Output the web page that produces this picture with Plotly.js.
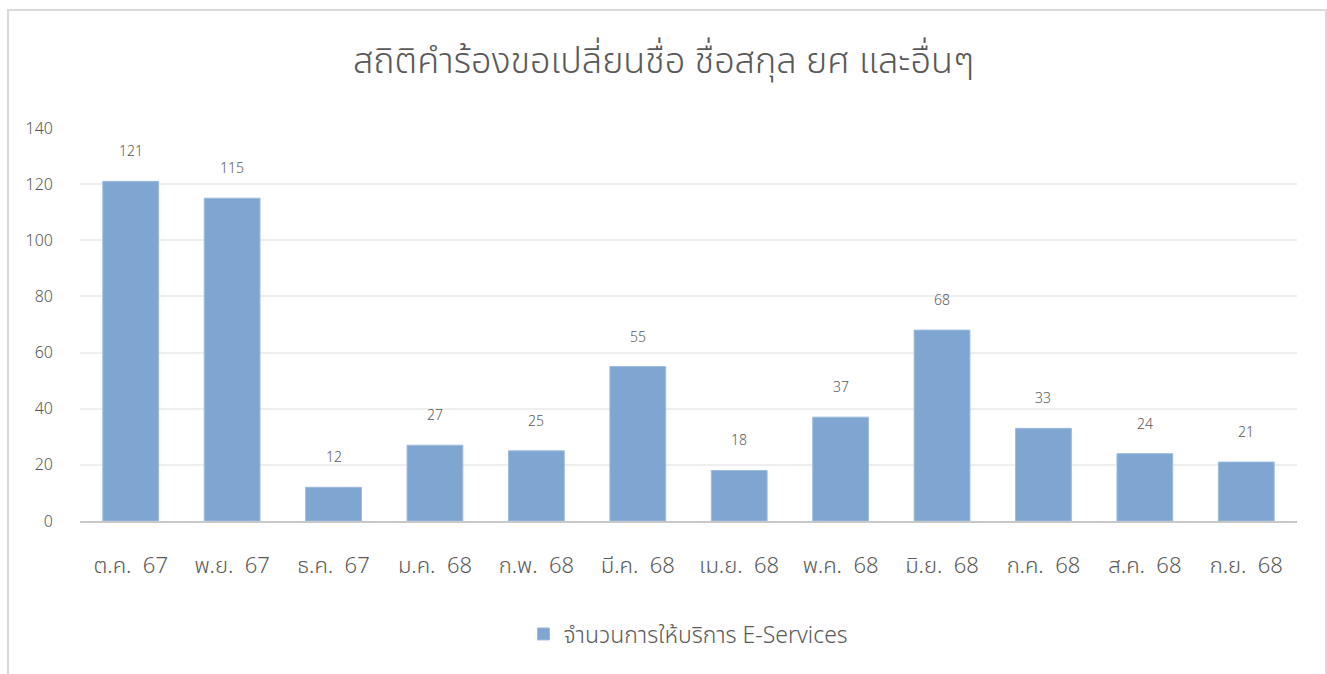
<!DOCTYPE html>
<html>
<head>
<meta charset="utf-8">
<script src="https://cdn.plot.ly/plotly-3.0.1.min.js"></script>
<style>
html,body{margin:0;padding:0;background:#fff;}
#wrap{position:relative;width:1327px;height:674px;overflow:hidden;}
#chart{position:absolute;left:0;top:0;width:1327px;height:674px;}
#frame{position:absolute;left:7px;top:9px;width:1316px;height:700px;border:2px solid #d9d9d9;pointer-events:none;}
</style>
</head>
<body>
<div id="wrap"><div id="chart"></div><div id="frame"></div></div>
<script>
const categories = ["ต.ค. 67","พ.ย. 67","ธ.ค. 67","ม.ค. 68","ก.พ. 68","มี.ค. 68","เม.ย. 68","พ.ค. 68","มิ.ย. 68","ก.ค. 68","ส.ค. 68","ก.ย. 68"];
const values = [121,115,12,27,25,55,18,37,68,33,24,21];
const seriesName = "จำนวนการให้บริการ E-Services";
const chartTitle = "สถิติคำร้องขอเปลี่ยนชื่อ ชื่อสกุล ยศ และอื่นๆ";
const yTicks = [0,20,40,60,80,100,120,140];

const font = '"Noto Sans Thai", "Noto Sans", "DejaVu Sans", sans-serif';
const grey = '#595959';

const trace = {
  type: 'bar',
  x: categories,
  y: values,
  name: seriesName,
  marker: {color: '#7fa5d1', line: {color: '#9dbbdf', width: 1}},
  hoverinfo: 'x+y'
};

const annotations = categories.map((c, i) => ({
  x: c, y: values[i], xref: 'x', yref: 'y',
  text: String(values[i]),
  showarrow: false, yanchor: 'bottom', yshift: 17,
  font: {family: font, size: 14, color: grey, weight: 300}
}));

const layout = {
  width: 1327, height: 674,
  margin: {l: 80, r: 30, t: 128, b: 153},
  paper_bgcolor: '#fff', plot_bgcolor: '#fff',
  title: {text: chartTitle, x: 0.5, xref: 'container', xanchor: 'center', y: 0.91, yanchor: 'middle', yref: 'container',
          font: {family: font, size: 36, color: grey, weight: 300}},
  bargap: 0.45,
  showlegend: true,
  legend: {orientation: 'h', x: 0.5, xanchor: 'center', y: -0.2875, yanchor: 'middle',
           font: {family: font, size: 23, color: grey, weight: 300}},
  xaxis: {
    type: 'category', tickfont: {family: font, size: 22, color: grey, weight: 300},
    tickvals: categories, ticktext: categories.map(s => s.replace(' ', '\u00a0\u00a0')),
    showgrid: false, showline: true, linecolor: '#c8c8c8', linewidth: 2,
    ticks: '', ticklabelstandoff: 24, fixedrange: true
  },
  yaxis: {
    range: [0, 140], tickvals: yTicks, ticktext: yTicks.map(String),
    tickfont: {family: font, size: 16, color: grey, weight: 300},
    showgrid: true, gridcolor: '#efefef', gridwidth: 2,
    zeroline: false, showline: false, ticks: '', ticklabelstandoff: 26, fixedrange: true
  },
  annotations: annotations
};

Plotly.newPlot('chart', [trace], layout, {displayModeBar: false, staticPlot: true});
</script>
</body>
</html>
